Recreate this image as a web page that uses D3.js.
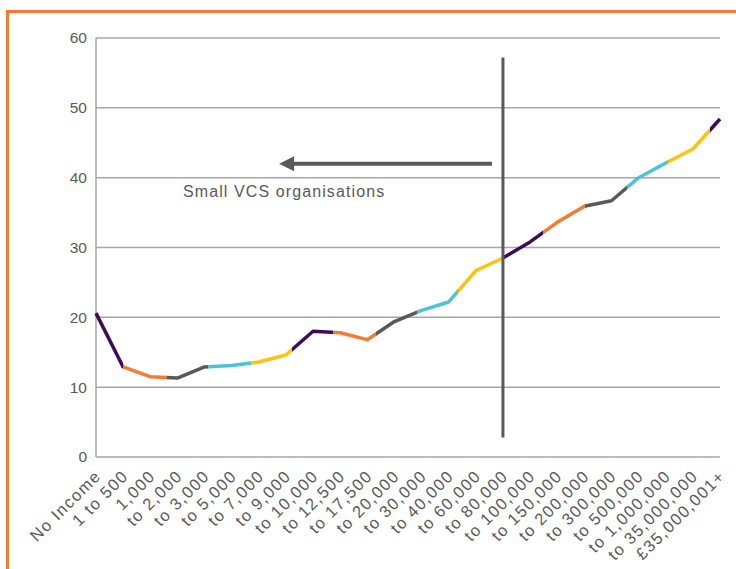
<!DOCTYPE html>
<html>
<head>
<meta charset="utf-8">
<script src="https://cdn.jsdelivr.net/npm/d3@7"></script>
<style>
  html, body { margin: 0; padding: 0; background: #fff; }
  svg { display: block; font-family: "Liberation Sans", Arial, Helvetica, sans-serif; }
</style>
</head>
<body>
<svg id="chart" width="736" height="569"></svg>
<script>
const categories = ["No Income", "1 to 500", "1,000", "to 2,000", "to 3,000", "to 5,000", "to 7,000",
  "to 9,000", "to 10,000", "to 12,500", "to 17,500", "to 20,000", "to 30,000", "to 40,000",
  "to 60,000", "to 80,000", "to 100,000", "to 150,000", "to 200,000", "to 300,000",
  "to 500,000", "to 1,000,000", "to 35,000,000", "£35,000,001+"];
const values = [20.6, 12.9, 11.5, 11.3, 12.9, 13.1, 13.6, 14.6, 18.0, 17.8, 16.8, 19.4, 21.0,
  22.2, 26.7, 28.5, 30.8, 33.6, 35.9, 36.7, 40.0, 42.1, 44.1, 48.4];
const yTicks = [0, 10, 20, 30, 40, 50, 60];
// line colour bands (in category-index units) and their colours
const colourBreaks = [0, 1.0, 2.62, 4.13, 5.71, 7.22, 8.74, 10.32, 11.83, 13.34, 15.0, 16.48, 18.02, 19.57, 21.08, 22.63, 23];
const palette = ["#3d0b5c", "#f47b30", "#595959", "#4cc3da", "#ffc20e"];
const annotationText = "Small VCS organisations";

const svg = d3.select("#chart");
const x = d3.scalePoint().domain(categories).range([96, 720]);
const y = d3.scaleLinear().domain([0, 60]).range([457, 38]);
const idx = d3.scaleLinear().domain([0, categories.length - 1]).range([96, 720]);

// orange frame
svg.append("rect").attr("x", 7.5).attr("y", 11.5).attr("width", 760).attr("height", 600)
  .attr("fill", "none").attr("stroke", "#f47b30").attr("stroke-width", 3);

// gridlines
svg.append("g").selectAll("line").data(yTicks).join("line")
  .attr("x1", 96).attr("x2", 720)
  .attr("y1", d => y(d)).attr("y2", d => y(d))
  .attr("stroke", "#a6a6a6").attr("stroke-width", 1.5);
// y-axis line
svg.append("line").attr("x1", 96).attr("x2", 96).attr("y1", y(60)).attr("y2", y(0))
  .attr("stroke", "#a6a6a6").attr("stroke-width", 1.5);

// y tick labels
svg.append("g").selectAll("text").data(yTicks).join("text")
  .attr("x", 87).attr("y", d => y(d)).attr("dy", "0.35em")
  .attr("text-anchor", "end").attr("font-size", 15.5).attr("fill", "#595959")
  .text(d => d);

// x tick labels
svg.append("g").selectAll("text").data(categories).join("text")
  .attr("transform", d => `translate(${x(d) + 2},${y(0) + 16}) rotate(-45)`)
  .attr("text-anchor", "end").attr("font-size", 16.5).attr("fill", "#595959")
  .attr("letter-spacing", 1.4)
  .attr("dy", "0.35em")
  .text(d => d);

// gradient for multi-coloured line
const defs = svg.append("defs");
const grad = defs.append("linearGradient").attr("id", "lineGrad")
  .attr("gradientUnits", "userSpaceOnUse")
  .attr("x1", idx(0)).attr("x2", idx(categories.length - 1)).attr("y1", 0).attr("y2", 0);
const span = idx(categories.length - 1) - idx(0);
for (let i = 0; i < colourBreaks.length - 1; i++) {
  const c = palette[i % palette.length];
  grad.append("stop").attr("offset", (idx(colourBreaks[i]) - idx(0)) / span).attr("stop-color", c);
  grad.append("stop").attr("offset", (idx(colourBreaks[i + 1]) - idx(0)) / span).attr("stop-color", c);
}

const line = d3.line().x((d, i) => x(categories[i])).y(d => y(d));
svg.append("path").datum(values).attr("d", line)
  .attr("fill", "none").attr("stroke", "url(#lineGrad)").attr("stroke-width", 3.5)
  .attr("stroke-linejoin", "round");

// vertical divider at "to 80,000"
const vx = x("to 80,000");
svg.append("line").attr("x1", vx).attr("x2", vx).attr("y1", y(57.2)).attr("y2", y(2.8))
  .attr("stroke", "#595959").attr("stroke-width", 3);

// arrow
const ay = y(42.0);
const arrowStart = vx - 11, arrowTip = idx(6.75);
svg.append("line").attr("x1", arrowStart).attr("x2", arrowTip + 12).attr("y1", ay).attr("y2", ay)
  .attr("stroke", "#595959").attr("stroke-width", 4);
svg.append("path")
  .attr("d", `M${arrowTip},${ay} L${arrowTip + 15},${ay - 7.5} L${arrowTip + 15},${ay + 7.5} Z`)
  .attr("fill", "#595959");

svg.append("text").attr("x", 183).attr("y", ay + 33).attr("font-size", 16).attr("fill", "#595959")
  .attr("letter-spacing", 1.1)
  .text(annotationText);
</script>
</body>
</html>
